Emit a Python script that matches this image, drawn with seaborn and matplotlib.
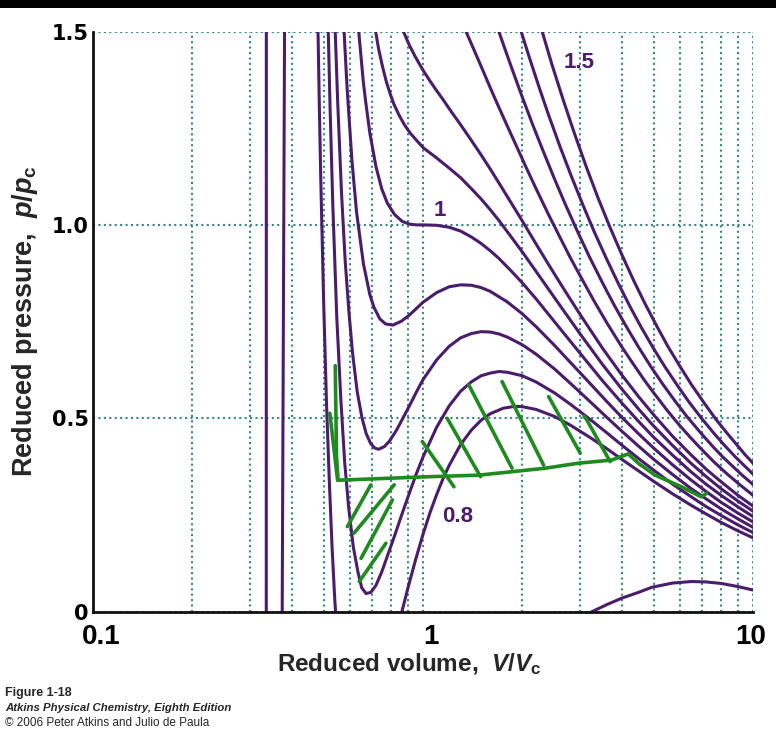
import matplotlib
matplotlib.use("Agg")
import matplotlib.pyplot as plt
from matplotlib.patches import Rectangle
from matplotlib.ticker import FixedLocator, NullFormatter
from matplotlib.transforms import ScaledTranslation
import numpy as np
import pandas as pd
import seaborn as sns

# ---------------- data (reduced V, reduced p) ----------------
V_080 = [0.47, 0.475, 0.48, 0.485, 0.49, 0.50, 0.51, 0.52, 0.53, 0.54, 0.55, 0.60, 0.65, 0.70, 0.75, 0.80,
         0.86, 0.90, 0.95, 1.0, 1.05, 1.1, 1.15, 1.2, 1.3, 1.4, 1.5, 1.6, 1.75, 1.9, 2.0, 2.2, 2.5, 2.8,
         3.2, 3.6, 4.0, 4.5, 5.0, 5.7, 6.5, 7.2, 8.0, 9.0, 10.0]
P_080 = [2.03, 1.76, 1.53, 1.312, 1.12, 0.80, 0.54, 0.34, 0.17, 0.035, -0.07, -0.33, -0.36, -0.30, -0.21, -0.12,
         -0.005, 0.061, 0.135, 0.20, 0.256, 0.303, 0.344, 0.378, 0.432, 0.469, 0.495, 0.512, 0.526, 0.531, 0.53,
         0.523, 0.505, 0.482, 0.451, 0.422, 0.394, 0.364, 0.337, 0.305, 0.275, 0.253, 0.231, 0.209, 0.191]

V_085 = [0.502, 0.513, 0.523, 0.533, 0.548, 0.564, 0.579, 0.595, 0.615, 0.635, 0.652, 0.672, 0.695, 0.72,
         0.75, 0.78, 0.82, 0.86, 0.9, 0.95, 1.0, 1.1, 1.2, 1.3, 1.4, 1.5, 1.6, 1.7, 1.8, 2.0, 2.2, 2.5, 2.8,
         3.2, 3.6, 4.0, 4.5, 5.0, 5.7, 6.5, 7.2, 8.0, 9.0, 10.0]
P_085 = [1.97, 1.60, 1.30, 1.05, 0.76, 0.545, 0.386, 0.271, 0.167, 0.103, 0.062, 0.047, 0.05, 0.068,
         0.103, 0.144, 0.196, 0.248, 0.296, 0.352, 0.40, 0.477, 0.532, 0.57, 0.594, 0.61, 0.617, 0.621, 0.619,
         0.61, 0.594, 0.566, 0.536, 0.498, 0.463, 0.431, 0.396, 0.366, 0.33, 0.297, 0.272, 0.249, 0.2245, 0.2045]

V_090 = [0.52, 0.53, 0.541, 0.551, 0.566, 0.581, 0.597, 0.612, 0.632, 0.653, 0.673, 0.694, 0.714, 0.734,
         0.764, 0.793, 0.832, 0.87, 0.908, 0.955, 1.0, 1.1, 1.2, 1.3, 1.4, 1.5, 1.6, 1.7, 1.8, 2.0, 2.2,
         2.5, 2.8, 3.2, 3.6, 4.0, 4.5, 5.0, 5.7, 6.5, 7.2, 8.0, 9.0, 10.0]
P_090 = [2.05, 1.76, 1.52, 1.325, 1.087, 0.907, 0.77, 0.667, 0.568, 0.502, 0.46, 0.435, 0.423, 0.42,
         0.427, 0.442, 0.47, 0.501, 0.531, 0.568, 0.60, 0.651, 0.686, 0.708, 0.719, 0.724, 0.723, 0.718, 0.71,
         0.69, 0.666, 0.628, 0.59, 0.544, 0.503, 0.467, 0.428, 0.394, 0.355, 0.318, 0.292, 0.266, 0.24, 0.218]

V_095 = [0.548, 0.558, 0.568, 0.579, 0.589, 0.609, 0.629, 0.66, 0.69, 0.71, 0.74, 0.77, 0.81, 0.86, 0.91,
         0.955, 1.0, 1.1, 1.2, 1.3, 1.4, 1.5, 1.6, 1.8, 2.0, 2.2, 2.5, 2.8, 3.2, 3.6, 4.0, 4.5, 5.0, 5.7,
         6.5, 7.2, 8.0, 9.0, 10.0]
P_095 = [1.97, 1.775, 1.61, 1.47, 1.352, 1.167, 1.033, 0.899, 0.82, 0.787, 0.757, 0.744, 0.741, 0.751, 0.767,
         0.784, 0.80, 0.825, 0.84, 0.845, 0.844, 0.838, 0.828, 0.801, 0.77, 0.737, 0.689, 0.644, 0.591, 0.544,
         0.503, 0.46, 0.423, 0.38, 0.34, 0.311, 0.283, 0.255, 0.232]

V_100 = [0.608, 0.618, 0.639, 0.659, 0.67, 0.69, 0.72, 0.75, 0.78, 0.82, 0.865, 0.91, 0.955, 1.0, 1.1, 1.2,
         1.3, 1.4, 1.5, 1.6, 1.7, 1.85, 2.0, 2.2, 2.4, 2.7, 3.0, 3.5, 4.0, 4.5, 5.0, 5.7, 6.5, 7.2, 8.0, 9.0,
         10.0]
P_100 = [1.77, 1.667, 1.498, 1.372, 1.32, 1.238, 1.151, 1.093, 1.056, 1.027, 1.009, 1.002, 1.0, 1.0, 0.999,
         0.994, 0.984, 0.969, 0.952, 0.933, 0.913, 0.881, 0.85, 0.809, 0.769, 0.715, 0.667, 0.597, 0.54, 0.492,
         0.451, 0.405, 0.361, 0.33, 0.301, 0.271, 0.246]

V_105 = [0.694, 0.704, 0.714, 0.734, 0.755, 0.775, 0.796, 0.816, 0.847, 0.877, 0.915, 0.96, 1.0, 1.1, 1.2,
         1.3, 1.4, 1.5, 1.6, 1.7, 1.85, 2.0, 2.2, 2.4, 2.7, 3.0, 3.5, 4.0, 4.5, 5.0, 5.7, 6.5, 7.2, 8.0, 9.0,
         10.0]
P_105 = [1.589, 1.549, 1.514, 1.454, 1.407, 1.369, 1.338, 1.3125, 1.283, 1.26, 1.237, 1.217, 1.2, 1.173, 1.147,
         1.122, 1.094, 1.067, 1.039, 1.011, 0.969, 0.93, 0.88, 0.834, 0.772, 0.717, 0.639, 0.576, 0.524, 0.48,
         0.43, 0.383, 0.35, 0.318, 0.286, 0.26]

V_110 = [0.78, 0.8, 0.83, 0.87, 0.91, 0.95, 1.0, 1.05, 1.1, 1.15, 1.22, 1.3, 1.4, 1.5, 1.6, 1.7, 1.85, 2.0,
         2.2, 2.4, 2.7, 3.0, 3.5, 4.0, 4.5, 5.0, 5.7, 6.5, 7.2, 8.0, 9.0, 10.0]
P_110 = [1.636, 1.598, 1.551, 1.502, 1.464, 1.433, 1.40, 1.372, 1.347, 1.324, 1.292, 1.259, 1.219, 1.181, 1.144,
         1.108, 1.057, 1.01, 0.951, 0.898, 0.828, 0.767, 0.681, 0.6125, 0.556, 0.509, 0.454, 0.405, 0.369, 0.336,
         0.301, 0.273]

V_120 = [1.25, 1.3, 1.35, 1.4, 1.5, 1.6, 1.7, 1.8, 1.9, 2.05, 2.2, 2.4, 2.6, 2.8, 3.0, 3.3, 3.6, 4.0, 4.3,
         4.7, 5.0, 5.5, 6.0, 6.5, 7.0, 7.6, 8.3, 9.1, 10.0]
P_120 = [1.571, 1.535, 1.50, 1.469, 1.41, 1.354, 1.303, 1.256, 1.212, 1.15, 1.094, 1.027, 0.968, 0.914, 0.867,
         0.803, 0.748, 0.685, 0.645, 0.597, 0.566, 0.52, 0.481, 0.448, 0.419, 0.388, 0.358, 0.329, 0.301]

V_130 = [1.6, 1.65, 1.72, 1.8, 1.9, 2.0, 2.15, 2.3, 2.5, 2.7, 2.95, 3.2, 3.5, 3.8, 4.1, 4.5, 4.9, 5.3, 5.8,
         6.3, 6.9, 7.5, 8.1, 8.7, 9.3, 10.0]
P_130 = [1.565, 1.531, 1.486, 1.438, 1.382, 1.33, 1.259, 1.196, 1.12, 1.053, 0.98, 0.916, 0.85, 0.792, 0.742,
         0.684, 0.634, 0.591, 0.545, 0.505, 0.465, 0.43, 0.40, 0.375, 0.352, 0.329]

V_140 = [1.9, 1.95, 2.1, 2.25, 2.4, 2.6, 2.8, 3.05, 3.3, 3.6, 3.9, 4.25, 4.6, 5.0, 5.4, 5.9, 6.4, 7.0, 7.6,
         8.2, 8.8, 9.4, 10.0]
P_140 = [1.552, 1.52, 1.433, 1.355, 1.285, 1.203, 1.131, 1.052, 0.983, 0.912, 0.85, 0.787, 0.733, 0.68, 0.634,
         0.585, 0.542, 0.499, 0.462, 0.43, 0.402, 0.378, 0.356]

V_150 = [2.2, 2.255, 2.46, 2.665, 2.87, 3.125, 3.38, 3.69, 4.0, 4.355, 4.71, 5.12, 5.52, 6.02, 6.52, 7.12,
         7.71, 8.3, 8.88, 9.44, 10.0]
P_150 = [1.553, 1.523, 1.414, 1.321, 1.239, 1.15, 1.073, 0.993, 0.924, 0.855, 0.796, 0.737, 0.686, 0.633,
         0.586, 0.539, 0.498, 0.464, 0.434, 0.407, 0.384]

# low-temperature branches
V_LOW_A = [0.3352, 0.3350]
P_LOW_A = [1.6, -0.1]
V_LOW_B = [0.381, 0.374]
P_LOW_B = [1.6, -0.1]
V_LOW_GAS = [3.0, 3.25, 3.6, 4.0, 4.5, 4.93, 5.7, 6.51, 7.2, 8.02, 9.0, 10.0]
P_LOW_GAS = [-0.02, 0.0, 0.018, 0.035, 0.05, 0.063, 0.074, 0.078, 0.077, 0.073, 0.065, 0.056]

CURVE_NAMES = ["0.8", "0.85", "0.9", "0.95", "1.0", "1.05", "1.1", "1.2", "1.3", "1.4", "1.5",
               "low_a", "low_b", "low_gas"]
CURVE_V = [V_080, V_085, V_090, V_095, V_100, V_105, V_110, V_120, V_130, V_140, V_150,
           V_LOW_A, V_LOW_B, V_LOW_GAS]
CURVE_P = [P_080, P_085, P_090, P_095, P_100, P_105, P_110, P_120, P_130, P_140, P_150,
           P_LOW_A, P_LOW_B, P_LOW_GAS]

# hand-drawn green annotation (Maxwell construction)
G_TIE_V = [0.557, 1.043, 1.477, 1.861, 2.348, 2.96, 3.73, 4.19, 4.49, 5.05, 6.07, 6.97, 7.23]
G_TIE_P = [0.340, 0.349, 0.353, 0.362, 0.371, 0.384, 0.392, 0.408, 0.384, 0.353, 0.323, 0.297, 0.306]
G_VS1_V = [0.542, 0.547, 0.553]
G_VS1_P = [0.636, 0.401, 0.340]
G_VS2_V = [0.522, 0.551]
G_VS2_P = [0.513, 0.340]
G_H1_V, G_H1_P = [0.695, 0.590], [0.328, 0.220]
G_H2_V, G_H2_P = [0.818, 0.618], [0.328, 0.203]
G_H3_V, G_H3_P = [0.808, 0.649], [0.289, 0.138]
G_H4_V, G_H4_P = [0.772, 0.641], [0.177, 0.078]
G_U1_V, G_U1_P = [0.995, 1.241], [0.440, 0.323]
G_U2_V, G_U2_P = [1.184, 1.494], [0.500, 0.349]
G_U3_V, G_U3_P = [1.377, 1.861], [0.586, 0.371]
G_U4_V, G_U4_P = [1.736, 2.32], [0.595, 0.379]
G_U5_V, G_U5_P = [2.403, 2.995], [0.556, 0.410]
G_U6_V, G_U6_P = [3.08, 3.136, 3.69], [0.505, 0.496, 0.388]

GREEN_V = [G_TIE_V, G_VS1_V, G_VS2_V, G_H1_V, G_H2_V, G_H3_V, G_H4_V,
           G_U1_V, G_U2_V, G_U3_V, G_U4_V, G_U5_V, G_U6_V]
GREEN_P = [G_TIE_P, G_VS1_P, G_VS2_P, G_H1_P, G_H2_P, G_H3_P, G_H4_P,
           G_U1_P, G_U2_P, G_U3_P, G_U4_P, G_U5_P, G_U6_P]

X_TICKS = [0.1, 1, 10]
X_TICK_LABELS = ["0.1", "1", "10"]
Y_TICKS = [0, 0.5, 1.0, 1.5]
Y_TICK_LABELS = ["0", "0.5", "1.0", "1.5"]
CURVE_LABELS = ["1.5", "1", "0.8"]

# ---------------- build tables ----------------
iso_rows = []
for name, vs, ps in zip(CURVE_NAMES, CURVE_V, CURVE_P):
    for i, (v, p) in enumerate(zip(vs, ps)):
        iso_rows.append({"curve": name, "order": i, "V": v, "p": p})
df_iso = pd.DataFrame(iso_rows)

green_rows = []
for k, (vs, ps) in enumerate(zip(GREEN_V, GREEN_P)):
    for i, (v, p) in enumerate(zip(vs, ps)):
        green_rows.append({"stroke": k, "order": i, "V": v, "p": p})
df_green = pd.DataFrame(green_rows)

# ---------------- style ----------------
sns.set_theme(style="white")
plt.rcParams["font.family"] = ["Liberation Sans", "DejaVu Sans"]
plt.rcParams["mathtext.fontset"] = "custom"
plt.rcParams["mathtext.rm"] = "Liberation Sans:bold"
plt.rcParams["mathtext.it"] = "Liberation Sans:italic:bold"
plt.rcParams["mathtext.bf"] = "Liberation Sans:bold"

PURPLE = "#4a1c6c"
GREEN = "#1f8a1f"
TEAL = "#3b8585"

W, H = 776, 748
fig = plt.figure(figsize=(W / 100, H / 100), dpi=100)
fig.patch.set_facecolor("white")
x0, x1, yb, yt = 93, 753, 611.7, 31.5
ax = fig.add_axes([x0 / W, 1 - yb / H, (x1 - x0) / W, (yb - yt) / H])
ax.set_facecolor("white")
ax.set_xscale("log")

sns.lineplot(data=df_iso, x="V", y="p", units="curve", estimator=None, sort=False,
             color=PURPLE, linewidth=2.2, ax=ax, legend=False, zorder=3)
sns.lineplot(data=df_green, x="V", y="p", units="stroke", estimator=None, sort=False,
             color=GREEN, linewidth=2.6, ax=ax, legend=False, zorder=4,
             solid_capstyle="round", solid_joinstyle="round")

ax.set_xlim(0.1, 10)
ax.set_ylim(0, 1.5)

# ticks & grid
ax.xaxis.set_major_locator(FixedLocator(X_TICKS))
ax.xaxis.set_minor_locator(FixedLocator([m * d for d in (0.1, 1) for m in range(2, 10)]))
ax.xaxis.set_minor_formatter(NullFormatter())
ax.set_xticks(X_TICKS)
ax.set_xticklabels(X_TICK_LABELS, fontsize=20, fontweight="bold", family=["Liberation Sans"])
ax.set_yticks(Y_TICKS)
ax.set_yticklabels(Y_TICK_LABELS, fontsize=15, fontweight="bold", family=["DejaVu Sans"])
ax.tick_params(axis="both", which="both", length=0, colors="black")
ax.tick_params(axis="x", pad=9)
ax.tick_params(axis="y", pad=3)
for lab, dx in zip(ax.get_xticklabels(), [8, 8, -2]):
    lab.set_transform(lab.get_transform() + ScaledTranslation(dx / 100, 0, fig.dpi_scale_trans))

ax.grid(True, which="both", axis="x", color=TEAL, linestyle=(0, (1, 1.6)), linewidth=1.5)
ax.grid(True, which="major", axis="y", color=TEAL, linestyle=(0, (1, 1.6)), linewidth=1.5)
ax.set_axisbelow(True)

for s in ("top", "right"):
    ax.spines[s].set_visible(False)
for s in ("left", "bottom"):
    ax.spines[s].set_visible(True)
    ax.spines[s].set_color("#111111")
    ax.spines[s].set_linewidth(2.0)
    ax.spines[s].set_zorder(5)

ax.set_xlabel(r"Reduced volume,  $V/V_{\rm c}$", fontsize=17.5, fontweight="bold")
ax.set_ylabel(r"Reduced pressure,  $p/p_{\rm c}$", fontsize=19.5, fontweight="bold")
ax.xaxis.set_label_coords((409 - x0) / (x1 - x0), -0.068)
ax.yaxis.set_label_coords((40 - x0) / (x1 - x0), (yb - 321) / (yb - yt))

# curve labels
label_pos = [(2.98, 1.421), (1.126, 1.038), (1.276, 0.247)]
for txt, (xv, yv) in zip(CURVE_LABELS, label_pos):
    ax.text(xv, yv, txt, color=PURPLE, fontsize=16, fontweight="bold",
            family=["Liberation Sans", "DejaVu Sans"], ha="center", va="center", zorder=6)

# caption
fig.text(5 / W, 1 - 693 / H, "Figure 1-18", fontsize=9, fontweight="bold", va="center", ha="left")
fig.text(5 / W, 1 - 708 / H, "Atkins Physical Chemistry, Eighth Edition", fontsize=8.2,
         fontweight="bold", style="italic", va="center", ha="left")
fig.text(5 / W, 1 - 723 / H, "\u00a9 2006 Peter Atkins and Julio de Paula", fontsize=8.5,
         va="center", ha="left")

# black strip at top of the screenshot
fig.add_artist(Rectangle((0, 1 - 8 / H), 1, 8 / H, transform=fig.transFigure,
                         facecolor="black", edgecolor="none", zorder=10))

fig.savefig("out.png", dpi=100)
